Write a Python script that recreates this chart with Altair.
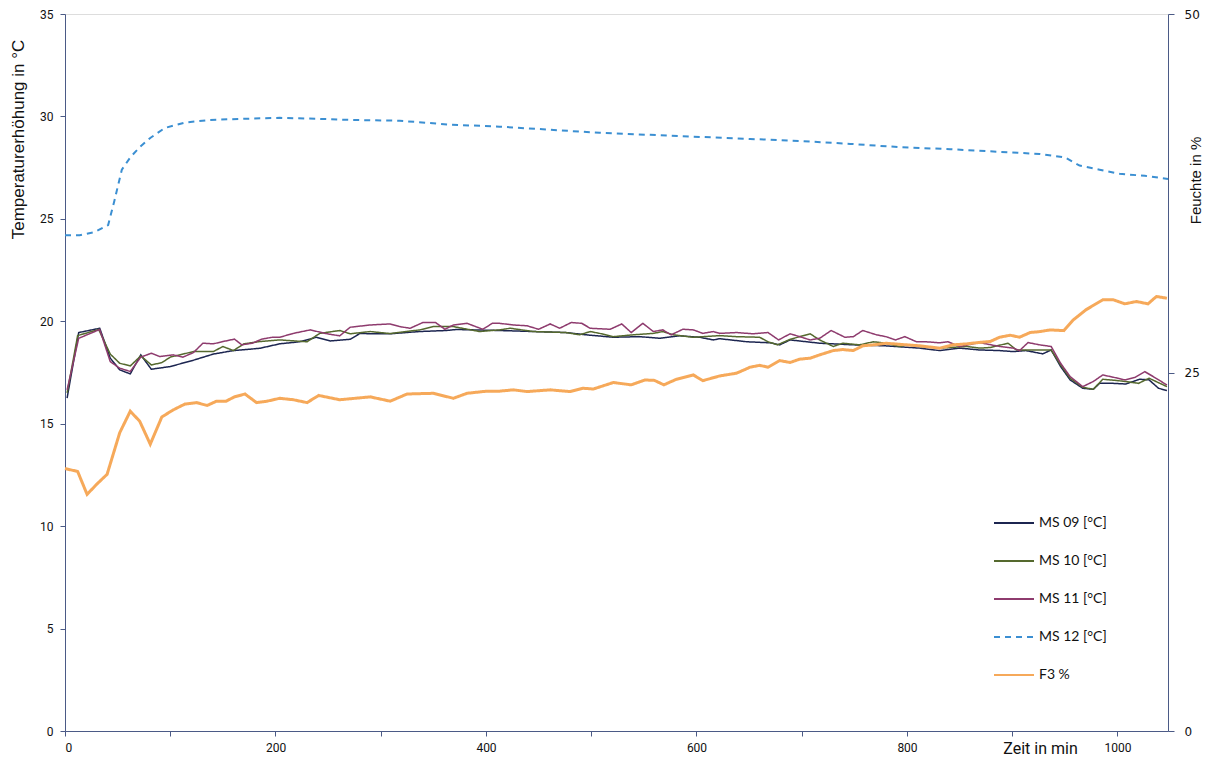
import altair as alt
import pandas as pd

# ---------------- data ----------------
ms09_t = [2, 13, 33, 43, 52, 62, 72, 82, 100, 122, 141, 160, 185, 204, 223, 239, 252, 271, 280, 309,
          337, 362, 372, 413, 445, 476, 495, 521, 546, 565, 584, 603, 616, 622, 648, 670, 679, 689, 717, 749,
          780, 812, 831, 850, 869, 888, 901, 913, 929, 937, 946, 955, 967, 977, 983, 996, 1008, 1021, 1030, 1039, 1047]
ms09_v = [16.25, 19.45, 19.66, 18.2, 17.63, 17.43, 18.36, 17.66, 17.79, 18.1, 18.4, 18.57, 18.68, 18.9, 19.0, 19.22, 19.04, 19.12, 19.4, 19.39,
          19.5, 19.55, 19.6, 19.55, 19.5, 19.45, 19.34, 19.22, 19.25, 19.17, 19.29, 19.22, 19.09, 19.15, 19.0, 18.95, 18.85, 19.09, 18.93, 18.85,
          18.8, 18.69, 18.57, 18.69, 18.6, 18.57, 18.52, 18.57, 18.41, 18.6, 17.79, 17.14, 16.73, 16.68, 16.97, 16.97, 16.94, 17.17, 17.14, 16.73, 16.62]

ms10_t = [2, 12, 32, 43, 52, 62, 72, 82, 92, 100, 122, 141, 150, 160, 170, 185, 204, 230, 242, 261,
          271, 290, 309, 337, 350, 369, 394, 413, 423, 445, 476, 489, 499, 508, 521, 540, 559, 568, 578, 597,
          622, 638, 660, 668, 677, 689, 708, 717, 730, 739, 755, 768, 777, 793, 800, 812, 831, 857, 869, 879,
          896, 904, 913, 926, 937, 946, 955, 967, 977, 986, 999, 1008, 1020, 1030, 1047]
ms10_v = [16.5, 19.3, 19.6, 18.4, 17.95, 17.82, 18.31, 17.87, 17.98, 18.25, 18.52, 18.52, 18.77, 18.57, 18.9, 19.01, 19.09, 19.0, 19.41, 19.55,
          19.39, 19.5, 19.4, 19.58, 19.74, 19.74, 19.5, 19.58, 19.66, 19.5, 19.45, 19.34, 19.5, 19.41, 19.25, 19.34, 19.41, 19.5, 19.34, 19.22,
          19.3, 19.25, 19.22, 19.0, 18.85, 19.12, 19.39, 19.09, 18.77, 18.93, 18.85, 19.0, 18.95, 18.77, 18.85, 18.77, 18.69, 18.77, 18.69, 18.72,
          18.93, 18.6, 18.6, 18.6, 18.6, 17.87, 17.22, 16.78, 16.68, 17.17, 17.11, 17.06, 16.97, 17.22, 16.81]

ms11_t = [2, 13, 33, 43, 52, 62, 72, 82, 90, 103, 112, 122, 131, 141, 150, 161, 168, 178, 187, 197,
          204, 217, 233, 249, 261, 271, 290, 309, 318, 328, 340, 352, 361, 369, 382, 397, 406, 413, 426, 439,
          450, 461, 470, 481, 491, 499, 518, 529, 538, 549, 559, 568, 576, 587, 597, 606, 616, 622, 638, 654,
          668, 678, 689, 698, 708, 717, 728, 741, 749, 758, 771, 780, 789, 798, 809, 818, 831, 839, 850, 869,
          888, 901, 907, 915, 926, 937, 946, 955, 967, 977, 986, 996, 1007, 1017, 1026, 1034, 1047]
ms11_v = [16.65, 19.17, 19.6, 18.03, 17.71, 17.55, 18.25, 18.44, 18.28, 18.36, 18.25, 18.47, 18.93, 18.9, 19.01, 19.13, 18.85, 18.93, 19.13, 19.22,
          19.22, 19.41, 19.58, 19.39, 19.29, 19.71, 19.82, 19.87, 19.74, 19.66, 19.94, 19.94, 19.61, 19.82, 19.9, 19.61, 19.9, 19.9, 19.82, 19.78,
          19.61, 19.87, 19.66, 19.94, 19.9, 19.66, 19.61, 19.87, 19.45, 19.9, 19.5, 19.58, 19.34, 19.61, 19.58, 19.41, 19.5, 19.41, 19.45, 19.39,
          19.45, 19.09, 19.39, 19.25, 19.09, 19.17, 19.55, 19.22, 19.25, 19.55, 19.34, 19.25, 19.09, 19.25, 19.0, 19.0, 18.95, 19.0, 18.77, 18.96,
          18.77, 18.69, 18.57, 18.96, 18.85, 18.77, 17.95, 17.3, 16.81, 17.06, 17.38, 17.27, 17.14, 17.27, 17.54, 17.3, 16.89]

ms12_t = [0, 14, 28, 41, 47, 54, 62, 71, 81, 95, 114, 138, 166, 204, 242, 271, 318, 366, 413, 461,
          508, 556, 603, 651, 698, 746, 793, 841, 888, 926, 950, 964, 983, 1002, 1026, 1048]
ms12_v = [24.2, 24.2, 24.35, 24.7, 25.9, 27.4, 28.0, 28.5, 28.95, 29.44, 29.7, 29.83, 29.88, 29.93, 29.88, 29.83, 29.79, 29.6, 29.5, 29.35,
          29.2, 29.1, 29.0, 28.9, 28.8, 28.66, 28.5, 28.4, 28.27, 28.17, 28.0, 27.6, 27.4, 27.2, 27.1, 26.95]

f3_t = [0, 12, 21, 30, 40, 52, 62, 71, 81, 92, 103, 114, 125, 135, 144, 153, 161, 171, 182, 192,
        204, 217, 230, 241, 261, 290, 309, 325, 350, 369, 382, 401, 413, 426, 439, 461, 480, 492, 502, 521,
        538, 551, 560, 569, 581, 597, 606, 622, 638, 651, 660, 668, 679, 689, 698, 708, 717, 730, 739, 749,
        758, 771, 780, 796, 812, 831, 844, 857, 869, 879, 888, 898, 907, 917, 926, 936, 949, 958, 970, 986,
        996, 1007, 1018, 1029, 1037, 1047]
f3_v = [18.3, 18.1, 16.5, 17.2, 17.9, 20.8, 22.3, 21.6, 20.0, 21.9, 22.4, 22.8, 22.9, 22.7, 23.0, 23.0, 23.3, 23.5, 22.9, 23.0,
        23.2, 23.1, 22.9, 23.4, 23.1, 23.3, 23.0, 23.5, 23.55, 23.2, 23.55, 23.7, 23.7, 23.79, 23.67, 23.79, 23.67, 23.9, 23.85, 24.3,
        24.14, 24.48, 24.45, 24.14, 24.53, 24.83, 24.43, 24.76, 24.95, 25.37, 25.5, 25.37, 25.83, 25.7, 25.93, 26.0, 26.23, 26.53, 26.6, 26.53,
        26.86, 26.95, 27.04, 26.95, 26.86, 26.7, 26.93, 27.0, 27.1, 27.16, 27.46, 27.6, 27.46, 27.79, 27.85, 27.97, 27.92, 28.67, 29.37, 30.07,
        30.07, 29.79, 29.95, 29.79, 30.3, 30.18]

series_names = ["MS 09 [°C]", "MS 10 [°C]", "MS 11 [°C]", "MS 12 [°C]", "F3 %"]
series_colors = ["#1c2550", "#55692e", "#8e3b6e", "#3b8fd2", "#f6a95a"]
series_dash = [[1, 0], [1, 0], [1, 0], [6, 5], [1, 0]]

x_ticks = list(range(0, 1001, 100))
left_ticks = [0, 5, 10, 15, 20, 25, 30, 35]
right_ticks = [0, 25, 50]

rows = []
for name, ts, vs in [(series_names[0], ms09_t, ms09_v), (series_names[1], ms10_t, ms10_v),
                     (series_names[2], ms11_t, ms11_v), (series_names[3], ms12_t, ms12_v),
                     (series_names[4], f3_t, f3_v)]:
    for t, v in zip(ts, vs):
        rows.append({"series": name, "t": t, "v": v})
df = pd.DataFrame(rows)

axis_col = "#4b5a86"
narrow = "Liberation Sans Narrow, Roboto, sans-serif"

x_enc = alt.X("t:Q", scale=alt.Scale(domain=[0, 1048], nice=False, zero=False),
              axis=alt.Axis(values=x_ticks, grid=False, tickSize=5, domainColor=axis_col, tickColor=axis_col,
                            format="d",
                            labelExpr="datum.value % 200 == 0 ? datum.label : ''",
                            labelFont=narrow, labelFontSize=12, labelColor="#111", labelPadding=6,
                            title="Zeit in min", titleFont=narrow, titleFontSize=16, titleFontWeight="normal",
                            titleColor="#111", titleX=975, titleY=17, titleBaseline="middle", titleAlign="center"))

color_enc = alt.Color("series:N", scale=alt.Scale(domain=series_names, range=series_colors),
                      legend=alt.Legend(title=None, orient="none", legendX=928, legendY=488,
                                        symbolType="stroke", symbolSize=1600, rowPadding=10,
                                        labelFont="Lato", labelFontSize=14, labelColor="#111",
                                        labelOffset=4, padding=0, symbolStrokeWidth=2))
dash_enc = alt.StrokeDash("series:N", scale=alt.Scale(domain=series_names, range=series_dash))

y_left = alt.Y("v:Q", scale=alt.Scale(domain=[0, 35], nice=False),
               axis=alt.Axis(values=left_ticks, grid=False, tickSize=5, domainColor=axis_col, tickColor=axis_col,
                             labelFont=narrow, labelFontSize=12, labelColor="#111", labelPadding=7,
                             title="Temperaturerhöhung in °C", titleFont="Liberation Sans", titleFontSize=17,
                             titleFontWeight="normal", titleColor="#111", titleAngle=270,
                             titleX=-47, titleY=125, titleAlign="center", titleBaseline="middle"))

temps = alt.Chart(df).transform_filter(
    alt.FieldOneOfPredicate(field="series", oneOf=series_names[:3])
).mark_line(strokeWidth=1.5).encode(x=x_enc, y=y_left, color=color_enc, strokeDash=dash_enc, order="t:Q")

ms12 = alt.Chart(df).transform_filter(alt.datum.series == series_names[3]).mark_line(strokeWidth=2).encode(
    x=x_enc, y=y_left, color=color_enc, strokeDash=dash_enc, order="t:Q")

left = alt.layer(temps, ms12)

right = alt.Chart(df).transform_filter(alt.datum.series == series_names[4]).mark_line(strokeWidth=3).encode(
    x=x_enc,
    y=alt.Y("v:Q", scale=alt.Scale(domain=[0, 50], nice=False),
            axis=alt.Axis(orient="right", values=right_ticks, grid=False, tickSize=6, domainColor=axis_col,
                          tickColor=axis_col, labelFont="DejaVu Sans", labelFontSize=12, labelColor="#111",
                          labelPadding=10,
                          title="Feuchte in %", titleFont="Liberation Sans", titleFontSize=15,
                          titleFontWeight="normal", titleColor="#111", titleAngle=270,
                          titleX=27, titleY=166, titleAlign="center", titleBaseline="middle")),
    color=color_enc, strokeDash=dash_enc, order="t:Q",
)

chart = alt.layer(left, right).resolve_scale(y="independent").properties(
    width=1103, height=717,
    autosize=alt.AutoSizeParams(type="none"),
    padding={"left": 57, "top": 6, "right": 42, "bottom": 30},
).configure_view(stroke=None).configure(background="white")

chart.save("out.html", embed_options={"renderer": "svg", "actions": False})
